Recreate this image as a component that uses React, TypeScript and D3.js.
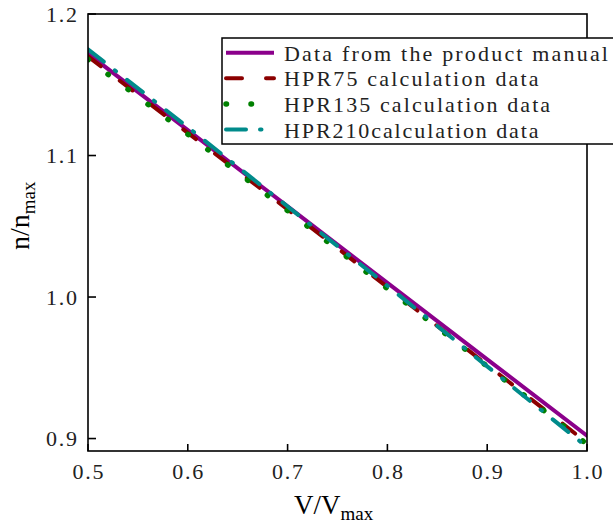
import * as d3 from "d3";

// x values (V/Vmax)
const ratios = [0.5, 0.6, 0.7, 0.8, 0.9, 1.0];
// n/nmax for each series
const manualData = [1.172, 1.118, 1.064, 1.010, 0.956, 0.902];
const hpr75Data = [1.170, 1.116, 1.062, 1.007, 0.952, 0.897];
const hpr135Data = [1.168, 1.115, 1.061, 1.006, 0.951, 0.896];
const hpr210Data = [1.175, 1.120, 1.064, 1.008, 0.951, 0.894];

const seriesNames = [
  "Data from the product manual",
  "HPR75 calculation data",
  "HPR135 calculation data",
  "HPR210calculation data",
];

const xTicks = [0.5, 0.6, 0.7, 0.8, 0.9, 1.0];
const yTicks = [0.9, 1.0, 1.1, 1.2];

const W = 613;
const H = 526;
const margin = { left: 88, top: 14, right: 26, bottom: 75 };

// dash patterns assume round caps (caps add ~stroke width to each dash)
const styles = [
  { color: "#8b008b", dash: "none", width: 4 },
  { color: "#8b0000", dash: "16 24", width: 4 },
  { color: "#008000", dash: "0.5 24.5", width: 5.5 },
  { color: "#008b8b", dash: "20 14 1.5 14", width: 4 },
];

const serif = "'Liberation Serif', 'Times New Roman', serif";

export default function App() {
  const x = d3.scaleLinear().domain([0.5, 1.0]).range([margin.left, W - margin.right]);
  const y = d3.scaleLinear().domain([0.8912, 1.2]).range([H - margin.bottom, margin.top]);

  const all = [manualData, hpr75Data, hpr135Data, hpr210Data];
  const line = d3
    .line<number>()
    .x((_, i) => x(ratios[i]))
    .y((d) => y(d));

  const x0 = margin.left;
  const x1 = W - margin.right;
  const y0 = margin.top;
  const y1 = H - margin.bottom;

  const legX = 222;
  const legY = 38;
  const rowH = 25.6;
  const charW = 11.57;

  return (
    <svg
      width={W}
      height={H}
      style={{ position: "absolute", left: 0, top: 0, display: "block", background: "#fff" }}
    >
      <defs>
        <clipPath id="plot">
          <rect x={x0} y={y0} width={x1 - x0} height={y1 - y0} />
        </clipPath>
      </defs>

      <g clipPath="url(#plot)">
        {all.map((d, i) => (
          <path
            key={i}
            d={line(d) || ""}
            fill="none"
            stroke={styles[i].color}
            strokeWidth={styles[i].width}
            strokeLinecap="round"
            strokeDasharray={styles[i].dash}
          />
        ))}
      </g>

      {/* frame */}
      <rect x={x0} y={y0} width={x1 - x0} height={y1 - y0} fill="none" stroke="#000" strokeWidth={1.6} />

      {/* y ticks */}
      {yTicks.map((t) => (
        <g key={t}>
          <line x1={x0} x2={x0 + 8} y1={y(t)} y2={y(t)} stroke="#000" strokeWidth={1.6} />
          <text
            x={46}
            y={y(t) + 7.5}
            fontFamily={serif}
            fontSize={22}
            textLength={31}
            lengthAdjust="spacing"
            fill="#222"
          >
            {t.toFixed(1)}
          </text>
        </g>
      ))}

      {/* x ticks */}
      {xTicks.map((t) => (
        <g key={t}>
          <line x1={x(t)} x2={x(t)} y1={y1} y2={y1 - 7} stroke="#000" strokeWidth={1.6} />
          <text
            x={x(t) - 15.5}
            y={479}
            fontFamily={serif}
            fontSize={22}
            textLength={31}
            lengthAdjust="spacing"
            fill="#222"
          >
            {t.toFixed(1)}
          </text>
        </g>
      ))}

      {/* axis labels */}
      <text x={294} y={514} fontFamily={serif} fontSize={27}>
        V/V<tspan fontSize={19} dy={6}>max</tspan>
      </text>
      <text transform="translate(28.5,250) rotate(-90)" fontFamily={serif} fontSize={28}>
        n/n<tspan fontSize={19} dy={6}>max</tspan>
      </text>

      {/* legend */}
      <rect x={legX} y={legY} width={420} height={106} fill="#fff" stroke="#000" strokeWidth={1.5} />
      {seriesNames.map((name, i) => {
        const cy = 52.7 + i * rowH;
        return (
          <g key={name}>
            <line
              x1={226}
              x2={274}
              y1={cy}
              y2={cy}
              stroke={styles[i].color}
              strokeWidth={styles[i].width}
              strokeLinecap={i === 0 ? "butt" : "round"}
              strokeDasharray={styles[i].dash}
            />
            <text
              x={284}
              y={cy + 8}
              fontFamily={serif}
              fontSize={22}
              textLength={name.length * charW}
              lengthAdjust="spacing"
              fill="#222"
            >
              {name}
            </text>
          </g>
        );
      })}
    </svg>
  );
}
